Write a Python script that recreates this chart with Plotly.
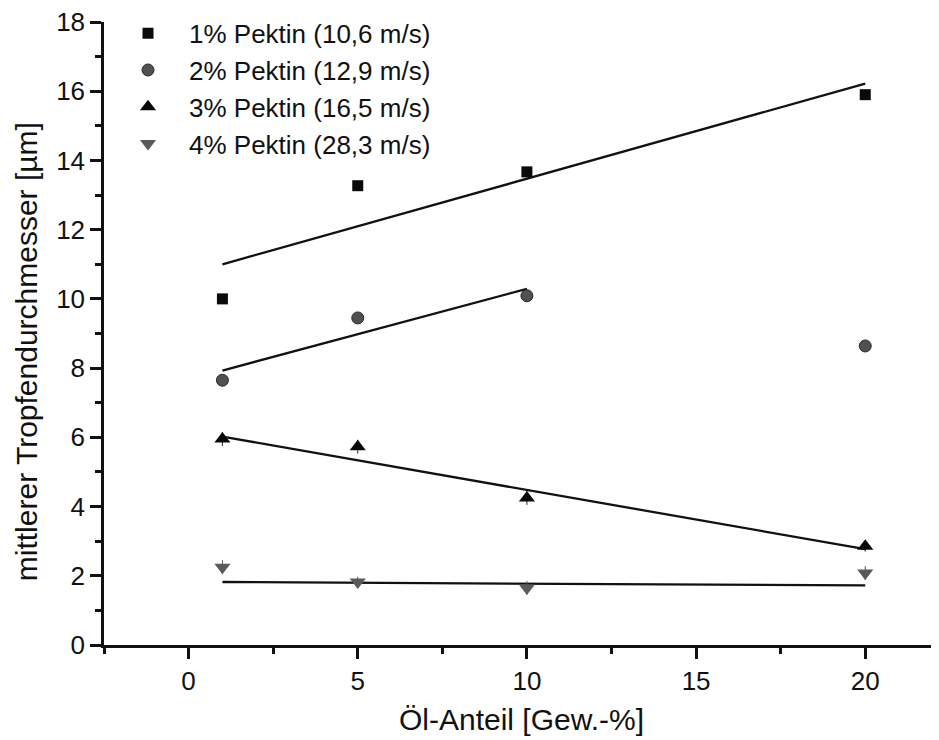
import plotly.graph_objects as go

# Data
oel_anteil = [1, 5, 10, 20]
labels = ["1% Pektin (10,6 m/s)", "2% Pektin (12,9 m/s)",
          "3% Pektin (16,5 m/s)", "4% Pektin (28,3 m/s)"]
pektin1 = [10.0, 13.27, 13.67, 15.9]
pektin2 = [7.65, 9.45, 10.09, 8.64]
pektin3 = [5.95, 5.73, 4.25, 2.85]
pektin4 = [2.25, 1.82, 1.65, 2.08]
err3 = [0.2, 0.2, 0.2, 0.15]
err4 = [0.2, 0.15, 0.2, 0.2]

# Linear fit lines (end points)
fit1_x = [1, 20]
fit1_y = [11.0, 16.22]
fit2_x = [1, 10]
fit2_y = [7.93, 10.29]
fit3_x = [1, 20]
fit3_y = [6.02, 2.77]
fit4_x = [1, 20]
fit4_y = [1.82, 1.72]

x_ticks = [0, 5, 10, 15, 20]
x_minor = [-2.5, 2.5, 7.5, 12.5, 17.5]
y_ticks = list(range(0, 19, 2))
y_minor = list(range(1, 18, 2))
x_title = "Öl-Anteil [Gew.-%]"
y_title = "mittlerer Tropfendurchmesser [µm]"

FONT = "Liberation Sans, Arial, sans-serif"

fig = go.Figure()

for fx, fy in [(fit1_x, fit1_y), (fit2_x, fit2_y), (fit3_x, fit3_y), (fit4_x, fit4_y)]:
    fig.add_trace(go.Scatter(x=fx, y=fy, mode="lines",
                             line=dict(color="#111111", width=2.3),
                             showlegend=False, hoverinfo="skip"))

fig.add_trace(go.Scatter(x=oel_anteil, y=pektin1, mode="markers", name=labels[0],
                         marker=dict(symbol="square", size=11, color="#0a0a0a")))
fig.add_trace(go.Scatter(x=oel_anteil, y=pektin2, mode="markers", name=labels[1],
                         marker=dict(symbol="circle", size=12, color="#505050",
                                     line=dict(color="#2a2a2a", width=1))))
fig.add_trace(go.Scatter(x=oel_anteil, y=pektin3, mode="markers", name=labels[2],
                         error_y=dict(type="data", array=err3, color="#222222",
                                      thickness=1, width=0),
                         marker=dict(symbol="triangle-up", size=14, color="#0a0a0a")))
fig.add_trace(go.Scatter(x=oel_anteil, y=pektin4, mode="markers", name=labels[3],
                         error_y=dict(type="data", array=err4, color="#555555",
                                      thickness=1, width=0),
                         marker=dict(symbol="triangle-down", size=14, color="#5a5a5a")))

fig.update_layout(
    width=931, height=732,
    margin=dict(l=96, r=0, t=14, b=95, autoexpand=False),
    paper_bgcolor="white", plot_bgcolor="white",
    font=dict(family=FONT, color="#111111", size=26),
    legend=dict(x=0.0036, y=1.0196, xanchor="left", yanchor="top",
                itemwidth=72,
                font=dict(size=26, family=FONT, color="#111111"),
                bgcolor="rgba(0,0,0,0)", tracegroupgap=0),
    xaxis=dict(range=[-2.5, 22.18], tickmode="array", tickvals=x_ticks,
               automargin=False, ticklabeloverflow="allow",
               showgrid=False, zeroline=False, showline=True, linecolor="#111111",
               linewidth=2.5, ticks="outside", ticklen=11, tickwidth=2.5, tickcolor="#111111",
               minor=dict(tickvals=x_minor, ticks="outside",
                          ticklen=6, tickwidth=2.5, tickcolor="#111111"),
               tickfont=dict(size=26),
               title=dict(text=x_title, font=dict(size=30), standoff=15)),
    yaxis=dict(range=[0, 18], tickmode="array", tickvals=y_ticks,
               automargin=False, ticklabeloverflow="allow",
               showgrid=False, zeroline=False, showline=True, linecolor="#111111",
               linewidth=2.5, ticks="outside", ticklen=11, tickwidth=2.5, tickcolor="#111111",
               minor=dict(tickvals=y_minor, ticks="outside",
                          ticklen=6, tickwidth=2.5, tickcolor="#111111"),
               tickfont=dict(size=26)),
    annotations=[dict(text=y_title, xref="paper", yref="paper",
                      x=-0.0934, y=0.470, xanchor="center", yanchor="middle",
                      textangle=-90, showarrow=False,
                      font=dict(size=30, family=FONT, color="#111111"))],
)

fig.write_html("out.html")
